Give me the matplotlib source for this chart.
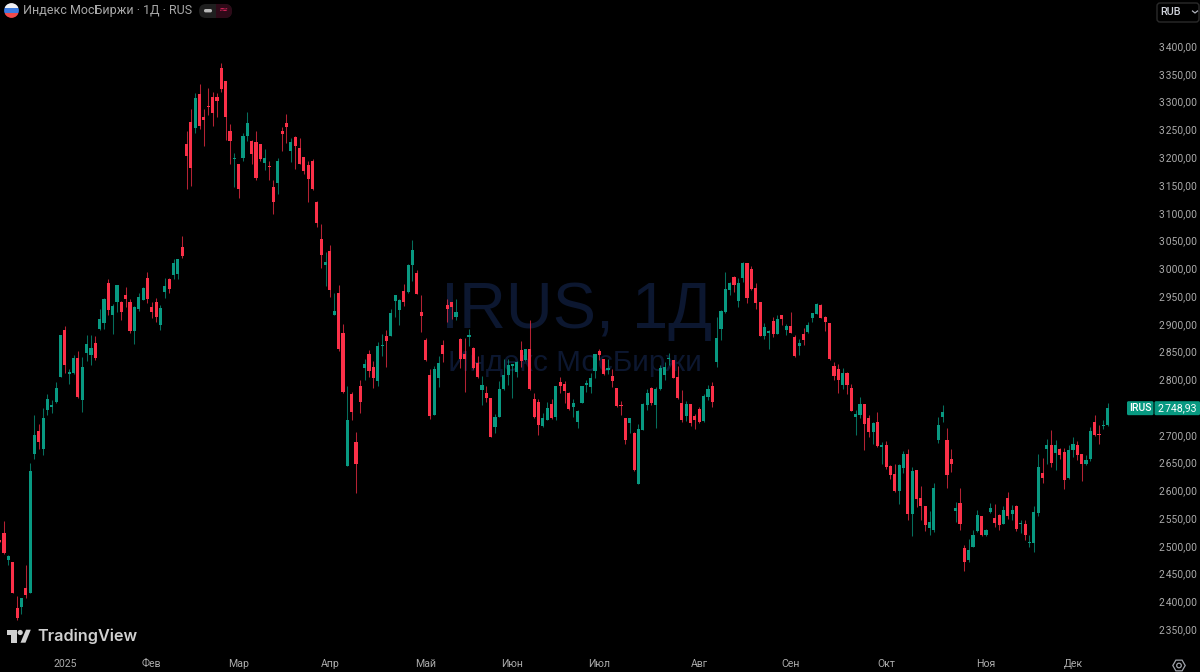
import numpy as np
import matplotlib
matplotlib.use("Agg")
import matplotlib.pyplot as plt
from matplotlib.patches import Polygon, Circle, FancyBboxPatch, Rectangle, RegularPolygon

plt.rcParams['font.family'] = ['Roboto', 'Open Sans', 'DejaVu Sans']

directions = ("RRGRRGRGGR" "GGGGGRGGRG" "GGRGGRGGRR" "RGGGRRRGGR" "GGR"
              "RRGRRRRRRR" "RGRGGRRRGR" "RGRRGRRRRR" "RRGRGRRGRR" "RGR"
              "RGGRGGGRGG" "RRRRGGRRRG" "RRGRRGRRGG" "GGGGRGRRRG" "G"
              "RGRRRGGGGG" "GRRGRRRRGR" "GGGRGGGGRR" "RGRRRGGRGG" "G"
              "GRGGRRRRGG" "RGRGRRGRGG" "GRRRRRGRRG" "GRRGRGRR"
              "RGGRGRRRGG" "GGRRGRRGGG" "RGGRRGRGRG" "RGGGRGRGRR" "GGRRGGRRGG")

highs = [2511,2544,2484,2471,2410,2407,2466,2650,2736,2720,
         2748,2774,2763,2795,2880,2896,2819,2844,2851,2840,
         2880,2879,2878,2927,2947,2981,2935,2969,2941,2966,
         2944,2932,2955,2966,2993,2940,2946,2934,2983,2983,
         3017,3017,3058,
         3247,3286,3315,3332,3286,3324,3317,3315,3370,3337,
         3260,3208,3188,3243,3281,3231,3247,3224,3214,3193,
         3159,3199,3255,3278,3234,3239,3235,3200,3193,3197,
         3121,3080,3029,3042,2956,2969,2900,2788,2777,2705,
         2799,2837,2853,
         2833,2867,2882,2889,2927,2952,2944,2971,3007,3051,
         2996,2952,2875,2819,2824,2842,2871,2944,2940,2944,
         2875,2875,2891,2859,2842,2806,2788,2767,2738,2797,
         2837,2836,2828,2833,2869,2854,2907,2776,2764,2740,
         2759,
         2765,2788,2804,2797,2777,2765,2745,2788,2799,2812,
         2845,2855,2837,2837,2818,2785,2761,2731,2731,2705,
         2720,2758,2782,2786,2786,2825,2832,2848,2835,2824,
         2781,2761,2756,2738,2751,2774,2790,2795,2913,2925,
         2993,
         2976,2986,2983,3011,3010,3004,2974,2939,2901,2888,
         2913,2915,2916,2900,2922,2879,2873,2892,2903,2920,
         2937,2935,2914,2902,2831,2828,2821,2813,2791,2745,
         2768,2756,2736,2723,2741,2687,2689,2645,
         2647,2648,2671,2675,2642,2637,2608,2572,2562,2614,
         2732,2754,2713,2675,2579,2604,2502,2513,2528,2565,
         2554,2531,2577,2576,2558,2571,2597,2574,2573,2547,
         2546,2519,2571,2666,2658,2692,2709,2691,2676,2676,
         2682,2696,2689,2666,2664,2715,2736,2718,2727,2758]

body_tops = [2511,2523,2481,2471,2388,2407,2425,2635,2699,2707,
             2731,2765,2754,2784,2880,2889,2814,2839,2839,2822,
             2864,2857,2866,2909,2944,2973,2932,2969,2940,2951,
             2939,2930,2949,2965,2983,2930,2940,2928,2968,2981,
             3010,3016,3038,
             3224,3263,3307,3314,3272,3292,3309,3309,3361,3337,
             3248,3199,3188,3239,3262,3229,3227,3223,3199,3184,
             3147,3193,3248,3262,3227,3237,3217,3200,3186,3193,
             3120,3053,3011,3031,2923,2955,2884,2727,2774,2687,
             2788,2827,2846,
             2822,2860,2862,2878,2920,2952,2942,2959,3005,3032,
             2992,2921,2870,2808,2818,2830,2862,2934,2939,2922,
             2873,2845,2880,2857,2830,2790,2776,2767,2733,2782,
             2807,2825,2827,2832,2852,2854,2854,2765,2759,2731,
             2749,
             2756,2788,2795,2791,2775,2757,2743,2788,2794,2803,
             2845,2851,2836,2821,2806,2784,2754,2731,2730,2704,
             2711,2755,2775,2785,2783,2821,2823,2839,2835,2804,
             2758,2756,2755,2734,2747,2770,2782,2788,2875,2923,
             2962,
             2974,2984,2974,3010,3010,2998,2964,2939,2894,2887,
             2905,2909,2916,2896,2896,2876,2866,2882,2898,2919,
             2935,2934,2913,2902,2824,2819,2812,2812,2785,2738,
             2756,2755,2730,2722,2723,2682,2681,2644,
             2629,2646,2666,2666,2635,2636,2586,2572,2543,2605,
             2718,2741,2691,2656,2569,2577,2497,2493,2520,2555,
             2553,2529,2569,2551,2556,2564,2587,2564,2571,2540,
             2540,2507,2561,2642,2632,2682,2682,2682,2674,2669,
             2673,2684,2681,2665,2654,2707,2724,2702,2718,2748.93]

body_bottoms = [2507,2488,2475,2415,2371,2390,2411,2415,2665,2687,
                2675,2745,2750,2759,2805,2825,2810,2811,2769,2763,
                2848,2844,2839,2890,2902,2925,2915,2940,2922,2945,
                2887,2887,2927,2943,2945,2922,2913,2898,2958,2962,
                2987,2990,3022,
                3203,3181,3253,3256,3267,3290,3279,3301,3323,3273,
                3229,3197,3143,3199,3239,3205,3163,3196,3190,3183,
                3119,3154,3242,3254,3212,3220,3188,3175,3161,3142,
                3081,3023,3006,2961,2916,2855,2777,2644,2742,2647,
                2759,2821,2815,
                2802,2797,2860,2869,2878,2941,2925,2940,2957,3005,
                2954,2914,2834,2734,2736,2803,2846,2927,2931,2913,
                2836,2836,2876,2820,2805,2781,2766,2696,2714,2732,
                2782,2807,2824,2813,2833,2834,2782,2732,2718,2716,
                2727,
                2731,2733,2788,2779,2746,2750,2723,2758,2790,2786,
                2815,2843,2810,2817,2797,2752,2752,2691,2721,2637,
                2611,2709,2754,2757,2754,2782,2807,2836,2803,2767,
                2726,2734,2721,2727,2724,2725,2768,2759,2831,2891,
                2921,
                2961,2970,2941,2983,2947,2962,2938,2878,2878,2884,
                2882,2882,2909,2889,2884,2842,2860,2870,2885,2910,
                2918,2911,2904,2836,2806,2799,2790,2790,2743,2732,
                2735,2720,2705,2705,2680,2679,2642,2627,
                2599,2599,2640,2558,2558,2585,2571,2537,2533,2529,
                2691,2733,2628,2648,2563,2540,2471,2475,2498,2526,
                2520,2519,2561,2541,2538,2540,2554,2558,2531,2539,
                2520,2506,2506,2559,2623,2675,2650,2668,2663,2618,
                2622,2672,2663,2647,2647,2656,2699,2699,2716,2717]

lows = [2507,2485,2465,2415,2367,2378,2407,2415,2656,2675,
        2663,2736,2740,2758,2805,2811,2791,2810,2766,2742,
        2833,2826,2835,2889,2891,2916,2882,2922,2907,2931,
        2884,2864,2923,2942,2938,2911,2904,2888,2947,2955,
        2981,2981,3019,
        3143,3148,3244,3251,3220,3276,3257,3272,3318,3231,
        3188,3147,3126,3193,3229,3187,3159,3193,3177,3158,
        3098,3134,3211,3226,3192,3178,3188,3169,3120,3141,
        3075,3000,2968,2949,2915,2851,2776,2644,2726,2596,
        2739,2799,2805,
        2785,2788,2842,2822,2878,2912,2898,2932,2955,2977,
        2954,2886,2833,2729,2736,2786,2831,2903,2909,2907,
        2821,2778,2860,2819,2803,2753,2760,2696,2704,2732,
        2781,2790,2767,2804,2822,2833,2781,2731,2699,2714,
        2727,
        2729,2727,2776,2758,2745,2733,2713,2757,2778,2776,
        2803,2835,2808,2809,2786,2751,2736,2683,2704,2635,
        2611,2709,2745,2753,2712,2781,2799,2826,2803,2765,
        2724,2725,2716,2711,2722,2724,2762,2750,2823,2870,
        2920,
        2951,2958,2931,2975,2938,2960,2927,2878,2873,2855,
        2876,2882,2898,2880,2884,2840,2844,2862,2884,2904,
        2917,2910,2887,2834,2799,2776,2783,2774,2743,2699,
        2731,2673,2697,2684,2679,2648,2638,2620,
        2598,2575,2632,2546,2517,2570,2547,2527,2519,2525,
        2686,2724,2605,2633,2543,2528,2455,2471,2498,2525,
        2518,2517,2559,2534,2529,2539,2549,2547,2526,2524,
        2511,2498,2489,2554,2614,2647,2642,2637,2657,2602,
        2620,2660,2654,2617,2646,2653,2698,2684,2711,2716]

price_ticks = [2350, 2400, 2450, 2500, 2550, 2600, 2650, 2700, 2800, 2850, 2900,
               2950, 3000, 3050, 3100, 3150, 3200, 3250, 3300, 3350, 3400]
month_positions = [15, 35, 55, 76, 98, 118, 138, 161, 182, 204, 227, 247]
month_labels = ["2025", "Фев", "Мар", "Апр", "Май", "Июн", "Июл", "Авг", "Сен", "Окт", "Ноя", "Дек"]
last_price = 2748.93

GREEN = "#089981"
RED = "#FB3048"
GREY = "#ABABAB"

n = len(highs)
idx = np.arange(n)
is_up = np.array([d == "G" for d in directions[:n]])
tops = np.array(body_tops, dtype=float)
bottoms = np.array(body_bottoms, dtype=float)
colors = np.where(is_up, GREEN, RED)

fig = plt.figure(figsize=(12, 6.72), dpi=100, facecolor="black")
ax = fig.add_axes([0, 0, 1, 1], facecolor="black")
ax.set_xlim(0.07, 276.24)
ax.set_ylim(2273, 3483)
for s in ax.spines.values():
    s.set_visible(False)

# watermark
ax.text(0.4808, 1 - 328 / 672, "IRUS, 1Д", transform=ax.transAxes, ha="center", va="baseline",
        fontsize=46.7, color="#0C1730", family=["Liberation Sans"], zorder=0)
ax.text(0.4792, 1 - 371 / 672, "Индекс МосБиржи", transform=ax.transAxes, ha="center", va="baseline",
        fontsize=21.4, color="#0C1730", family=["Liberation Sans"], zorder=0)

# candles
ax.vlines(idx, lows, highs, colors=colors, linewidth=0.75, alpha=0.72, zorder=2)
ax.bar(idx, np.maximum(tops - bottoms, 1.8), bottom=bottoms, width=0.72, color=colors,
       linewidth=0, zorder=3)

# axes
ax.yaxis.tick_right()
ax.set_yticks(price_ticks)
ax.set_yticklabels([f"{p // 1000}\u200a{p % 1000:03d},00" for p in price_ticks])
ax.tick_params(axis="y", length=0, pad=-2.4, labelsize=7.4, labelcolor=GREY)
for t in ax.get_yticklabels():
    t.set_ha("right")
    t.set_va("center_baseline")
ax.set_xticks(month_positions)
ax.set_xticklabels(month_labels)
ax.tick_params(axis="x", length=0, pad=-9.6, labelsize=7.6, labelcolor=GREY)

# overlay in pixel units for the chrome
ov = fig.add_axes([0, 0, 1, 1], facecolor="none")
ov.set_xlim(0, 1200)
ov.set_ylim(672, 0)
ov.axis("off")

def pill(x, y, w, h, r, fc, ec="none", lw=0, z=5):
    p = FancyBboxPatch((x + r, y + r), w - 2 * r, h - 2 * r, boxstyle=f"round,pad={r},rounding_size={r}",
                       fc=fc, ec=ec, lw=lw, zorder=z, mutation_aspect=1)
    ov.add_patch(p)
    return p

# flag
flag = Circle((11.5, 10.5), 7.4, transform=ov.transData, fc="none", ec="none")
ov.add_patch(flag)
for yy, col in [(3, "#F0F0F4"), (8, "#3D7BE0"), (13, "#F04A4A")]:
    r = Rectangle((4, yy), 15, 5.2, fc=col, ec="none", zorder=5)
    ov.add_patch(r)
    r.set_clip_path(flag)

ov.text(23, 10.5, "Индекс МосБиржи · 1Д · RUS", color="#A8A8A8", fontsize=9.0, va="center", ha="left")

# status pill
pill(199, 4, 33, 14, 7, "#1F1F1F")
b = Rectangle((216, 4), 16, 14, fc="#2E0A18", ec="none", zorder=6)
ov.add_patch(b)
b.set_clip_path(pill(199, 4, 33, 14, 7, "none"))
pill(204, 9, 8, 3.4, 1.6, "#B8B8B8", z=7)
ov.text(223, 10.2, "≈", color="#E0245E", fontsize=8, ha="center", va="center", zorder=7,
        family=["DejaVu Sans"])

# currency button
pill(1157, 3, 42, 19, 3, "black", ec="#2A2A2A", lw=1)
ov.text(1160, 12, "RUB", color="#D1D4DC", fontsize=7.8, fontweight="medium", va="center", ha="left", zorder=6)
ov.plot([1192.5, 1195, 1197.5], [11, 13, 11], color="#B2B5BE", lw=0.9, zorder=6)

# last-price label
y_last = ov.transData.inverted().transform(ax.transData.transform((0, last_price)))[1]
pill(1127, y_last - 6.5, 26.5, 14, 1.5, GREEN)
pill(1154.5, y_last - 6.5, 45.5, 14, 1.5, GREEN)
ov.text(1140.3, y_last + 0.5, "IRUS", color="white", fontsize=7.6, ha="center", va="center", zorder=6,
        fontweight="medium")
ov.text(1177, y_last + 0.5, "2\u200a748,93", color="white", fontsize=7.6, ha="center", va="center", zorder=6)

# TradingView logo
LOGO = "#D0D0D0"
ov.add_patch(Polygon([(6.7, 629.7), (16.7, 629.7), (16.7, 642.7), (11, 642.7), (11, 634.7), (6.7, 634.7)],
                     fc=LOGO, ec="none", zorder=6))
ov.add_patch(Circle((20.2, 632.5), 2.6, fc=LOGO, ec="none", zorder=6))
ov.add_patch(Polygon([(26, 629.7), (30.8, 629.7), (25.5, 642.7), (20.5, 642.7)], fc=LOGO, ec="none", zorder=6))
ov.text(37, 636.5, "TradingView", color=LOGO, fontsize=11.7, fontweight="semibold", va="center", ha="left",
        family=["Inter", "DejaVu Sans"], zorder=6)

# settings icon
ov.add_patch(RegularPolygon((1179, 665.5), 6, radius=6.2, orientation=np.pi / 6, fc="none", ec="#A0A3AB", lw=0.9, zorder=6))
ov.add_patch(Circle((1179, 665.5), 2.3, fc="none", ec="#A0A3AB", lw=0.9, zorder=6))

fig.savefig("out.png", dpi=100, facecolor="black")
